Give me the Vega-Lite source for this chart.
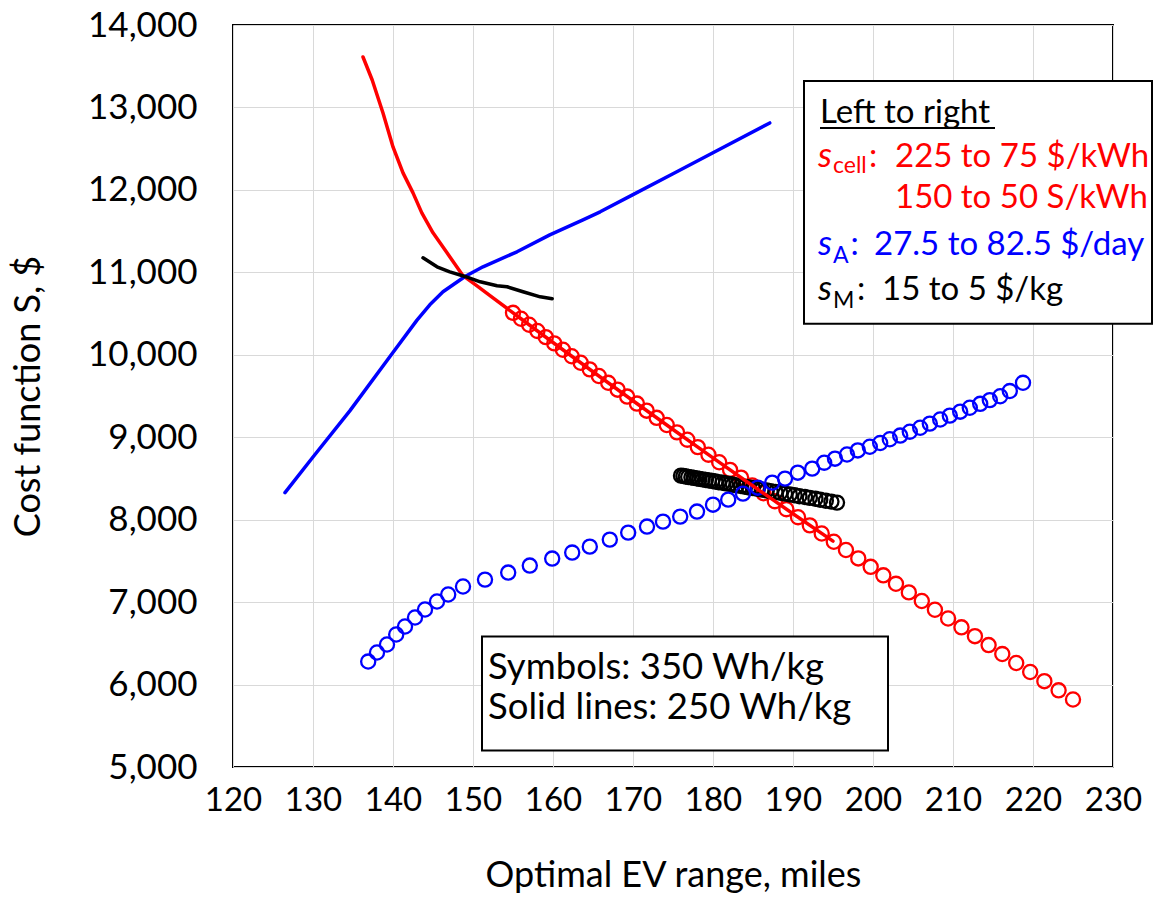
{
  "$schema": "https://vega.github.io/schema/vega-lite/v6.json",
  "width": 880,
  "height": 742,
  "autosize": {"type": "none"},
  "padding": {"left": 233, "top": 25, "right": 43, "bottom": 132},
  "background": "white",
  "config": {
    "font": "Lato",
    "view": {"stroke": "#000000", "strokeWidth": 2},
    "axis": {
      "grid": true, "gridColor": "#d9d9d9", "gridWidth": 1,
      "domain": false, "ticks": false, "tickSize": 0, "labelOverlap": false, "labelFlush": false,
      "labelFont": "Lato", "labelFontSize": 35, "labelColor": "#000000",
      "titleFont": "Lato", "titleFontSize": 36, "titleFontWeight": "normal", "titleColor": "#000000"
    }
  },
  "datasets": {
    "lines": [
      {"grp": "cell", "x": 136.25, "y": 13612}, {"grp": "cell", "x": 137.4, "y": 13333}, {"grp": "cell", "x": 138.75, "y": 12933},
      {"grp": "cell", "x": 140.0, "y": 12521}, {"grp": "cell", "x": 141.25, "y": 12206}, {"grp": "cell", "x": 142.5, "y": 11964},
      {"grp": "cell", "x": 143.6, "y": 11721}, {"grp": "cell", "x": 145.0, "y": 11479}, {"grp": "cell", "x": 146.75, "y": 11237},
      {"grp": "cell", "x": 148.75, "y": 10960}, {"grp": "cell", "x": 150.5, "y": 10836}, {"grp": "cell", "x": 152.5, "y": 10690},
      {"grp": "cell", "x": 156.0, "y": 10437}, {"grp": "cell", "x": 160.0, "y": 10149}, {"grp": "cell", "x": 165.0, "y": 9794},
      {"grp": "cell", "x": 170.0, "y": 9442}, {"grp": "cell", "x": 175.0, "y": 9094}, {"grp": "cell", "x": 180.0, "y": 8749},
      {"grp": "cell", "x": 185.0, "y": 8409}, {"grp": "cell", "x": 190.0, "y": 8072}, {"grp": "cell", "x": 195.0, "y": 7740},
      {"grp": "A", "x": 126.5, "y": 8328}, {"grp": "A", "x": 130.0, "y": 8760}, {"grp": "A", "x": 134.6, "y": 9320},
      {"grp": "A", "x": 139.6, "y": 9976}, {"grp": "A", "x": 143.0, "y": 10420}, {"grp": "A", "x": 144.6, "y": 10606},
      {"grp": "A", "x": 146.25, "y": 10764}, {"grp": "A", "x": 149.0, "y": 10950}, {"grp": "A", "x": 151.25, "y": 11067},
      {"grp": "A", "x": 155.5, "y": 11249}, {"grp": "A", "x": 159.6, "y": 11455}, {"grp": "A", "x": 163.75, "y": 11637},
      {"grp": "A", "x": 165.9, "y": 11734}, {"grp": "A", "x": 170.0, "y": 11942}, {"grp": "A", "x": 175.0, "y": 12195},
      {"grp": "A", "x": 180.0, "y": 12450}, {"grp": "A", "x": 187.1, "y": 12812},
      {"grp": "M", "x": 143.75, "y": 11176}, {"grp": "M", "x": 145.5, "y": 11067}, {"grp": "M", "x": 147.1, "y": 11006},
      {"grp": "M", "x": 149.0, "y": 10950}, {"grp": "M", "x": 150.9, "y": 10885}, {"grp": "M", "x": 153.0, "y": 10837},
      {"grp": "M", "x": 154.25, "y": 10825}, {"grp": "M", "x": 156.25, "y": 10764}, {"grp": "M", "x": 158.4, "y": 10703},
      {"grp": "M", "x": 159.9, "y": 10679}
    ],
    "pts": [
      {"grp": "cell", "x": 155.0, "y": 10509}, {"grp": "cell", "x": 156.0, "y": 10437}, {"grp": "cell", "x": 157.02, "y": 10364},
      {"grp": "cell", "x": 158.05, "y": 10289}, {"grp": "cell", "x": 159.1, "y": 10214}, {"grp": "cell", "x": 160.16, "y": 10138},
      {"grp": "cell", "x": 161.24, "y": 10061}, {"grp": "cell", "x": 162.34, "y": 9982}, {"grp": "cell", "x": 163.46, "y": 9903},
      {"grp": "cell", "x": 164.59, "y": 9823}, {"grp": "cell", "x": 165.73, "y": 9742}, {"grp": "cell", "x": 166.9, "y": 9660},
      {"grp": "cell", "x": 168.08, "y": 9577}, {"grp": "cell", "x": 169.27, "y": 9493}, {"grp": "cell", "x": 170.49, "y": 9408},
      {"grp": "cell", "x": 171.71, "y": 9322}, {"grp": "cell", "x": 172.96, "y": 9235}, {"grp": "cell", "x": 174.22, "y": 9148},
      {"grp": "cell", "x": 175.5, "y": 9059}, {"grp": "cell", "x": 176.79, "y": 8970}, {"grp": "cell", "x": 178.1, "y": 8880},
      {"grp": "cell", "x": 179.43, "y": 8788}, {"grp": "cell", "x": 180.77, "y": 8697}, {"grp": "cell", "x": 182.13, "y": 8604},
      {"grp": "cell", "x": 183.51, "y": 8510}, {"grp": "cell", "x": 184.9, "y": 8416}, {"grp": "cell", "x": 186.31, "y": 8320},
      {"grp": "cell", "x": 187.73, "y": 8224}, {"grp": "cell", "x": 189.17, "y": 8127}, {"grp": "cell", "x": 190.63, "y": 8030},
      {"grp": "cell", "x": 192.1, "y": 7931}, {"grp": "cell", "x": 193.59, "y": 7832}, {"grp": "cell", "x": 195.1, "y": 7732},
      {"grp": "cell", "x": 196.62, "y": 7632}, {"grp": "cell", "x": 198.16, "y": 7530}, {"grp": "cell", "x": 199.71, "y": 7428},
      {"grp": "cell", "x": 201.29, "y": 7325}, {"grp": "cell", "x": 202.87, "y": 7222}, {"grp": "cell", "x": 204.48, "y": 7118},
      {"grp": "cell", "x": 206.1, "y": 7013}, {"grp": "cell", "x": 207.74, "y": 6907}, {"grp": "cell", "x": 209.39, "y": 6801},
      {"grp": "cell", "x": 211.06, "y": 6694}, {"grp": "cell", "x": 212.74, "y": 6587}, {"grp": "cell", "x": 214.45, "y": 6479},
      {"grp": "cell", "x": 216.16, "y": 6370}, {"grp": "cell", "x": 217.9, "y": 6261}, {"grp": "cell", "x": 219.65, "y": 6152},
      {"grp": "cell", "x": 221.42, "y": 6041}, {"grp": "cell", "x": 223.2, "y": 5930}, {"grp": "cell", "x": 225.0, "y": 5819},
      {"grp": "M", "x": 176.0, "y": 8534}, {"grp": "M", "x": 176.3, "y": 8529}, {"grp": "M", "x": 176.6, "y": 8524},
      {"grp": "M", "x": 176.9, "y": 8518}, {"grp": "M", "x": 177.3, "y": 8513}, {"grp": "M", "x": 177.6, "y": 8507},
      {"grp": "M", "x": 178.0, "y": 8501}, {"grp": "M", "x": 178.3, "y": 8495}, {"grp": "M", "x": 178.7, "y": 8489},
      {"grp": "M", "x": 179.1, "y": 8482}, {"grp": "M", "x": 179.5, "y": 8476}, {"grp": "M", "x": 179.9, "y": 8469},
      {"grp": "M", "x": 180.3, "y": 8462}, {"grp": "M", "x": 180.7, "y": 8455}, {"grp": "M", "x": 181.2, "y": 8448},
      {"grp": "M", "x": 181.6, "y": 8440}, {"grp": "M", "x": 182.1, "y": 8432}, {"grp": "M", "x": 182.5, "y": 8424},
      {"grp": "M", "x": 183.0, "y": 8416}, {"grp": "M", "x": 183.5, "y": 8408}, {"grp": "M", "x": 184.0, "y": 8400},
      {"grp": "M", "x": 184.5, "y": 8391}, {"grp": "M", "x": 185.0, "y": 8383}, {"grp": "M", "x": 185.6, "y": 8374},
      {"grp": "M", "x": 186.1, "y": 8365}, {"grp": "M", "x": 186.7, "y": 8355}, {"grp": "M", "x": 187.2, "y": 8345},
      {"grp": "M", "x": 187.8, "y": 8336}, {"grp": "M", "x": 188.4, "y": 8326}, {"grp": "M", "x": 189.0, "y": 8316},
      {"grp": "M", "x": 189.6, "y": 8306}, {"grp": "M", "x": 190.2, "y": 8296}, {"grp": "M", "x": 190.8, "y": 8285},
      {"grp": "M", "x": 191.5, "y": 8275}, {"grp": "M", "x": 192.1, "y": 8264}, {"grp": "M", "x": 192.8, "y": 8253},
      {"grp": "M", "x": 193.4, "y": 8242}, {"grp": "M", "x": 194.1, "y": 8230}, {"grp": "M", "x": 194.8, "y": 8219},
      {"grp": "M", "x": 195.5, "y": 8207},
      {"grp": "A", "x": 136.9, "y": 6279}, {"grp": "A", "x": 138.0, "y": 6389}, {"grp": "A", "x": 139.25, "y": 6486},
      {"grp": "A", "x": 140.4, "y": 6607}, {"grp": "A", "x": 141.5, "y": 6704}, {"grp": "A", "x": 142.75, "y": 6813},
      {"grp": "A", "x": 144.0, "y": 6910}, {"grp": "A", "x": 145.5, "y": 7007}, {"grp": "A", "x": 146.9, "y": 7092},
      {"grp": "A", "x": 148.75, "y": 7189}, {"grp": "A", "x": 151.5, "y": 7273}, {"grp": "A", "x": 154.4, "y": 7358},
      {"grp": "A", "x": 157.1, "y": 7443}, {"grp": "A", "x": 159.9, "y": 7528}, {"grp": "A", "x": 162.4, "y": 7601},
      {"grp": "A", "x": 164.6, "y": 7673}, {"grp": "A", "x": 167.1, "y": 7758}, {"grp": "A", "x": 169.4, "y": 7843},
      {"grp": "A", "x": 171.75, "y": 7916}, {"grp": "A", "x": 173.75, "y": 7976}, {"grp": "A", "x": 175.9, "y": 8037},
      {"grp": "A", "x": 178.0, "y": 8098}, {"grp": "A", "x": 180.0, "y": 8182}, {"grp": "A", "x": 181.9, "y": 8243},
      {"grp": "A", "x": 183.75, "y": 8316}, {"grp": "A", "x": 185.6, "y": 8388}, {"grp": "A", "x": 187.4, "y": 8449},
      {"grp": "A", "x": 189.0, "y": 8498}, {"grp": "A", "x": 190.6, "y": 8570}, {"grp": "A", "x": 192.4, "y": 8619},
      {"grp": "A", "x": 193.9, "y": 8691}, {"grp": "A", "x": 195.25, "y": 8740}, {"grp": "A", "x": 196.75, "y": 8790},
      {"grp": "A", "x": 198.1, "y": 8840}, {"grp": "A", "x": 199.6, "y": 8885}, {"grp": "A", "x": 200.9, "y": 8930},
      {"grp": "A", "x": 202.1, "y": 8975}, {"grp": "A", "x": 203.4, "y": 9020}, {"grp": "A", "x": 204.6, "y": 9067},
      {"grp": "A", "x": 205.9, "y": 9115}, {"grp": "A", "x": 207.1, "y": 9165}, {"grp": "A", "x": 208.4, "y": 9215},
      {"grp": "A", "x": 209.6, "y": 9262}, {"grp": "A", "x": 210.9, "y": 9310}, {"grp": "A", "x": 212.1, "y": 9358},
      {"grp": "A", "x": 213.4, "y": 9405}, {"grp": "A", "x": 214.6, "y": 9450}, {"grp": "A", "x": 215.9, "y": 9497},
      {"grp": "A", "x": 217.1, "y": 9560}, {"grp": "A", "x": 218.75, "y": 9660}
    ],
    "boxes": [
      {"x": 191.375, "x2": 234.875, "y": 13321, "y2": 10376},
      {"x": 151.125, "x2": 201.875, "y": 6583, "y2": 5201}
    ],
    "underline": [{"x": 193.375, "x2": 215.25, "y": 12752}],
    "texts": [
      {"grp": "k", "x": 193.375, "y": 12812, "t": "Left to right"},
      {"grp": "cell", "x": 199.5, "y": 12279, "t": ":"},
      {"grp": "cell", "x": 202.75, "y": 12279, "t": "225 to 75 $/kWh"},
      {"grp": "cell", "x": 202.75, "y": 11782, "t": "150 to 50 S/kWh"},
      {"grp": "A", "x": 197.2, "y": 11212, "t": ":"},
      {"grp": "A", "x": 200.125, "y": 11212, "t": "27.5 to 82.5 $/day"},
      {"grp": "M", "x": 198.0, "y": 10667, "t": ":"},
      {"grp": "M", "x": 201.125, "y": 10667, "t": "15 to 5 $/kg"}
    ],
    "boxtexts": [
      {"grp": "k", "x": 151.875, "y": 6067, "t": "Symbols: 350 Wh/kg"},
      {"grp": "k", "x": 151.875, "y": 5577, "t": "Solid lines: 250 Wh/kg"}
    ],
    "ital": [
      {"grp": "cell", "x": 193.125, "y": 12279, "t": "s"},
      {"grp": "A", "x": 193.125, "y": 11212, "t": "s"},
      {"grp": "M", "x": 193.125, "y": 10667, "t": "s"}
    ],
    "subs": [
      {"grp": "cell", "x": 195.0, "y": 12206, "t": "cell"},
      {"grp": "A", "x": 195.0, "y": 11115, "t": "A"},
      {"grp": "M", "x": 195.0, "y": 10570, "t": "M"}
    ]
  },
  "encoding": {
    "x": {
      "field": "x", "type": "quantitative",
      "scale": {"domain": [120, 230], "nice": false, "zero": false},
      "axis": {"values": [120, 130, 140, 150, 160, 170, 180, 190, 200, 210, 220, 230], "title": "Optimal EV range, miles", "labelFontSize": 33, "labelPadding": 17, "titlePadding": 41}
    },
    "y": {
      "field": "y", "type": "quantitative",
      "scale": {"domain": [5000, 14000], "nice": false, "zero": false},
      "axis": {"values": [5000, 6000, 7000, 8000, 9000, 10000, 11000, 12000, 13000, 14000], "format": ",.0f", "title": "Cost function S, $", "labelPadding": 36, "titlePadding": 40}
    }
  },
  "layer": [
    {
      "data": {"name": "pts"},
      "mark": {"type": "point", "shape": "circle", "filled": false, "size": 200, "strokeWidth": 2.3, "opacity": 1},
      "encoding": {
        "color": {"field": "grp", "type": "nominal", "scale": {"domain": ["cell", "A", "M", "k"], "range": ["#ff0000", "#0000ff", "#000000", "#000000"]}, "legend": null}
      }
    },
    {
      "data": {"name": "lines"},
      "mark": {"type": "line", "strokeWidth": 3.5, "strokeCap": "round", "strokeJoin": "round"},
      "encoding": {
        "color": {"field": "grp", "type": "nominal", "scale": {"domain": ["cell", "A", "M", "k"], "range": ["#ff0000", "#0000ff", "#000000", "#000000"]}, "legend": null}
      }
    },
    {
      "data": {"name": "boxes"},
      "mark": {"type": "rect", "fill": "#ffffff", "stroke": "#000000", "strokeWidth": 2},
      "encoding": {"x2": {"field": "x2"}, "y2": {"field": "y2"}}
    },
    {
      "data": {"name": "underline"},
      "mark": {"type": "rule", "stroke": "#000000", "strokeWidth": 2},
      "encoding": {"x2": {"field": "x2"}}
    },
    {
      "data": {"name": "texts"},
      "mark": {"type": "text", "align": "left", "baseline": "alphabetic", "fontSize": 33, "font": "Lato"},
      "encoding": {
        "text": {"field": "t"},
        "color": {"field": "grp", "type": "nominal", "scale": {"domain": ["cell", "A", "M", "k"], "range": ["#ff0000", "#0000ff", "#000000", "#000000"]}, "legend": null}
      }
    },
    {
      "data": {"name": "boxtexts"},
      "mark": {"type": "text", "align": "left", "baseline": "alphabetic", "fontSize": 36.5, "font": "Lato", "color": "#000000"},
      "encoding": {"text": {"field": "t"}}
    },
    {
      "data": {"name": "ital"},
      "mark": {"type": "text", "align": "left", "baseline": "alphabetic", "fontSize": 35, "fontStyle": "italic", "font": "Lato"},
      "encoding": {
        "text": {"field": "t"},
        "color": {"field": "grp", "type": "nominal", "scale": {"domain": ["cell", "A", "M", "k"], "range": ["#ff0000", "#0000ff", "#000000", "#000000"]}, "legend": null}
      }
    },
    {
      "data": {"name": "subs"},
      "mark": {"type": "text", "align": "left", "baseline": "alphabetic", "fontSize": 23, "font": "Lato"},
      "encoding": {
        "text": {"field": "t"},
        "color": {"field": "grp", "type": "nominal", "scale": {"domain": ["cell", "A", "M", "k"], "range": ["#ff0000", "#0000ff", "#000000", "#000000"]}, "legend": null}
      }
    }
  ]
}
